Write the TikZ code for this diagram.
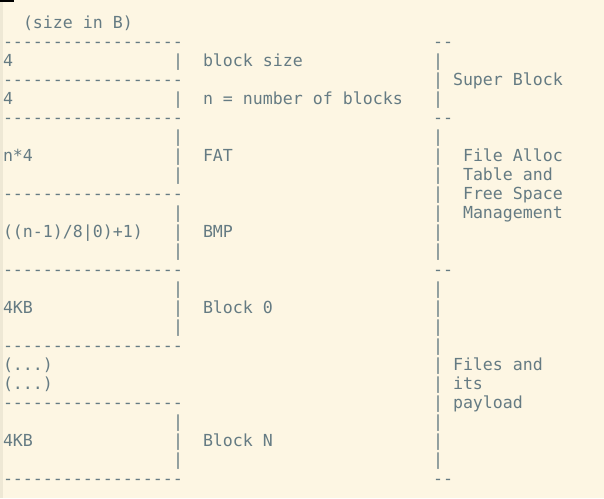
\documentclass[tikz,border=0pt]{standalone}
\usepackage{fontspec}
\setmonofont{DejaVu Sans Mono}
\usepackage{tikz}
\definecolor{paper}{HTML}{FDF6E3}
\definecolor{margin}{HTML}{EEE8D5}
\definecolor{ink}{HTML}{657B83}
\tikzset{ascii/.style={anchor=base west,inner sep=0pt,outer sep=0pt,text=ink,
                       font=\ttfamily\fontsize{16.6}{19}\selectfont}}

\begin{document}
\begin{tikzpicture}[x=10pt,y=-19pt]
    \tikzstyle{bar}=[ascii]
    \tikzstyle{label}=[ascii]

    % Paper, left margin and cursor
    \fill[paper] (0pt,0pt) rectangle (604pt,-498pt);
    \fill[margin] (0pt,0pt) rectangle (3pt,-498pt);
    \fill[black] (0pt,0pt) rectangle (14pt,-2pt);

    \begin{scope}[shift={(3pt,-28pt)}]
    \node[label] (unit) at (2,0) {(size in B)};

    % Draw the separator lines of the left column
    \foreach \r in {1,3,5,9,13,17,20,24}
        \node[bar] (S-\r) at (0,\r) {------------------};

    % Draw the pipes of the left column
    \foreach \r in {2,4,6,7,8,10,11,12,14,15,16,21,22,23}
        \node[bar] (P-\r) at (17,\r) {|};

    % Sizes of the blocks
    \foreach \r / \txt in {2/4,4/4,7/n*4,15/4KB,22/4KB}
        \node[label] (Z-\r) at (0,\r) {\txt};
    \node[label] (Z-11) at (0,11) {((n-1)/8|0)+1)};
    \node[label] (Z-18) at (0,18) {(...)};
    \node[label] (Z-19) at (0,19) {(...)};

    % Names of the blocks
    \foreach \r / \txt in {2/block size,4/n = number of blocks,7/FAT,11/BMP,15/Block 0,22/Block N}
        \node[label] (N-\r) at (20,\r) {\txt};

    % Draw the group brackets of the right column
    \foreach \r in {1,5,13,24}
        \node[bar] (G-\r) at (43,\r) {--};
    \foreach \r in {2,3,4,6,7,...,12,14,15,...,23}
        \node[bar] (R-\r) at (43,\r) {|};

    % Group labels
    \node[label] (super) at (45,3) {Super Block};
    \foreach \r / \txt in {7/File Alloc,8/Table and,9/Free Space,10/Management}
        \node[label] (F-\r) at (46,\r) {\txt};
    \foreach \r / \txt in {18/Files and,19/its,20/payload}
        \node[label] (D-\r) at (45,\r) {\txt};
    \end{scope}
\end{tikzpicture}
\end{document}
